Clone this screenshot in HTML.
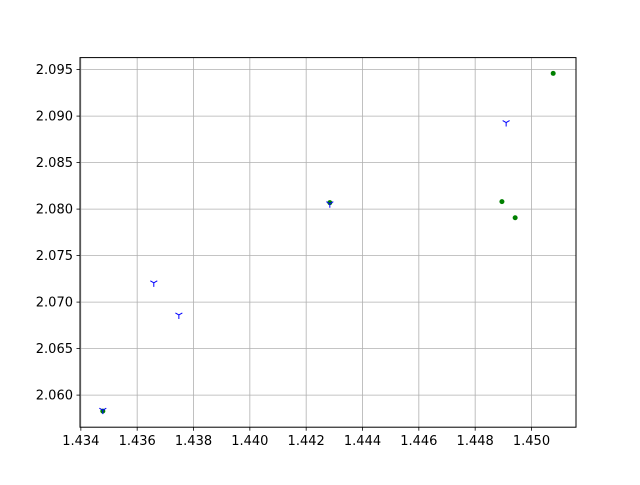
<!DOCTYPE html>
<html><head><meta charset="utf-8"><style>
body{margin:0;background:#fff}
svg text{font-family:"DejaVu Sans","Liberation Sans",sans-serif;font-size:13px;fill:#000}
</style></head><body>
<svg id="chart" width="640" height="480" viewBox="0 0 640 480">
<rect x="0" y="0" width="640" height="480" fill="#fff"/>
<g id="grid"></g>
<g id="ticks"></g>
<g id="marks"></g>
<rect x="80" y="57.6" width="496" height="369.6" fill="none" stroke="#000" stroke-width="1"/>
</svg>
<script>
const xTicks=[1.434,1.436,1.438,1.440,1.442,1.444,1.446,1.448,1.450];
const yTicks=[2.060,2.065,2.070,2.075,2.080,2.085,2.090,2.095];
const greenX=[1.43478,1.44284,1.44895,1.44942,1.45077];
const greenY=[2.05828,2.08069,2.08080,2.07907,2.09459];
const blueX=[1.43478,1.43659,1.43748,1.44284,1.44910];
const blueY=[2.05838,2.07207,2.06862,2.08058,2.08931];
const L=80,R=576,T=57.6,B=427.2;
const xMin=1.43397,xMax=1.45158,yMin=2.05655,yMax=2.09629;
const sx=v=>L+(v-xMin)/(xMax-xMin)*(R-L);
const sy=v=>B-(v-yMin)/(yMax-yMin)*(B-T);
const NS="http://www.w3.org/2000/svg";
function mk(tag,attrs,parent){const e=document.createElementNS(NS,tag);for(const k in attrs)e.setAttribute(k,attrs[k]);parent.appendChild(e);return e;}
const grid=document.getElementById('grid'),ticks=document.getElementById('ticks'),marks=document.getElementById('marks');
xTicks.forEach(v=>{const x=sx(v);
 let g=mk('line',{x1:x,x2:x,y1:T,y2:B,stroke:'#b0b0b0','stroke-width':0.8},grid);
 
 
 let t=mk('line',{x1:x,x2:x,y1:B,y2:B+3.5,stroke:'#000','stroke-width':0.8},ticks);
 
 
 let l=mk('text',{x:x,y:B+18,'text-anchor':'middle'},ticks);l.textContent=v.toFixed(3);
 
 
});
yTicks.forEach(v=>{const y=sy(v);
 let g=mk('line',{x1:L,x2:R,y1:y,y2:y,stroke:'#b0b0b0','stroke-width':0.8},grid);
 
 
 let t=mk('line',{x1:L-3.5,x2:L,y1:y,y2:y,stroke:'#000','stroke-width':0.8},ticks);
 
 
 let l=mk('text',{x:L-7,y:y+4.5,'text-anchor':'end'},ticks);l.textContent=v.toFixed(3);
 
 
});
greenX.forEach((v,i)=>{
 let c=mk('circle',{cx:sx(v),cy:sy(greenY[i]),r:2.5,fill:'green'},marks);
 
 
});
blueX.forEach((v,i)=>{const x=sx(v),y=sy(blueY[i]),s=4;
 let p=mk('path',{d:`M${x},${y}V${y+s}M${x},${y}L${x-s*0.87},${y-s*0.5}M${x},${y}L${x+s*0.87},${y-s*0.5}`,stroke:'blue','stroke-width':1,fill:'none'},marks);
 
 
});
</script>
</body></html>
